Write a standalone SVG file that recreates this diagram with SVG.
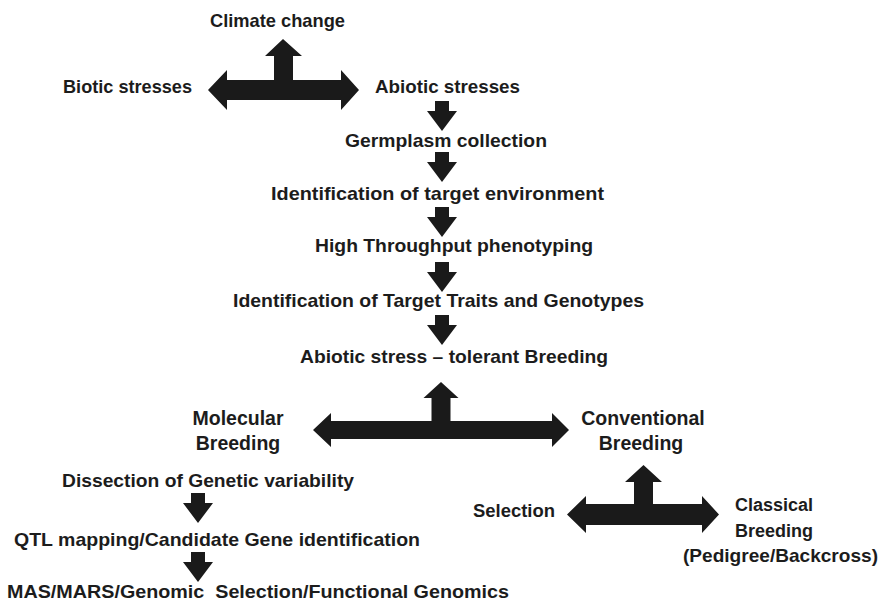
<svg xmlns="http://www.w3.org/2000/svg" width="881" height="603" viewBox="0 0 881 603">
<style>
  text { font-family: "Liberation Sans", Arial, sans-serif; font-weight: bold; font-size: 18.5px; fill: #1c1c1c; }
  .mid { text-anchor: middle; }
  .big { font-size: 19.5px; }
  .arrow { fill: #1a1a1a; stroke: none; }
</style>
<defs>
  <path id="down" d="M -7 0 L 7 0 L 7 10 L 15 10 L 0 30 L -15 10 L -7 10 Z"/>
</defs>
<rect width="881" height="603" fill="#ffffff"/>

<g id="connectors">
  <polygon class="arrow" points="208,90 227,70 227,80 274,80 274,56 265,56 283,39 302,56 293,56 293,80 341,80 341,70 359,90 341,110 341,100 227,100 227,110"/>
  <use href="#down" class="arrow" x="442" y="101"/>
  <use href="#down" class="arrow" x="442" y="152"/>
  <use href="#down" class="arrow" x="442" y="207"/>
  <use href="#down" class="arrow" x="442" y="262"/>
  <use href="#down" class="arrow" x="442" y="315"/>
  <polygon class="arrow" points="313,430 331,413 331,421 431.5,421 431.5,398 423.5,398 441,382 458.5,398 450.5,398 450.5,421 552,421 552,413 569,430 552,447 552,439 331,439 331,447"/>
  <use href="#down" class="arrow" x="198" y="493"/>
  <use href="#down" class="arrow" x="198" y="552"/>
  <polygon class="arrow" points="567,514.5 586,496 586,504 634,504 634,482 625,482 643.5,465 662,482 653,482 653,504 702,504 702,496 719,514.5 702,533 702,525 586,525 586,533"/>
</g>

<g id="climate-change"><text x="210" y="27" textLength="135" lengthAdjust="spacingAndGlyphs">Climate change</text></g>
<g id="biotic-stresses"><text x="63" y="93" textLength="129" lengthAdjust="spacingAndGlyphs">Biotic stresses</text></g>
<g id="abiotic-stresses"><text x="375" y="93" textLength="145" lengthAdjust="spacingAndGlyphs">Abiotic stresses</text></g>
<g id="germplasm"><text x="345" y="147" textLength="202" lengthAdjust="spacingAndGlyphs">Germplasm collection</text></g>
<g id="target-env"><text x="271" y="200" textLength="333" lengthAdjust="spacingAndGlyphs">Identification of target environment</text></g>
<g id="phenotyping"><text x="315" y="252" textLength="278" lengthAdjust="spacingAndGlyphs">High Throughput phenotyping</text></g>
<g id="target-traits"><text x="233" y="307" textLength="411" lengthAdjust="spacingAndGlyphs">Identification of Target Traits and Genotypes</text></g>
<g id="tolerant-breeding"><text x="300" y="363" textLength="308" lengthAdjust="spacingAndGlyphs">Abiotic stress – tolerant Breeding</text></g>
<g id="molecular-breeding">
  <text class="mid big" x="238" y="425">Molecular</text>
  <text class="mid big" x="238" y="450">Breeding</text>
</g>
<g id="conventional-breeding">
  <text class="mid big" x="643" y="425">Conventional</text>
  <text class="mid big" x="641" y="450">Breeding</text>
</g>
<g id="dissection"><text x="62" y="487" textLength="292" lengthAdjust="spacingAndGlyphs">Dissection of Genetic variability</text></g>
<g id="qtl"><text x="14" y="546" textLength="406" lengthAdjust="spacingAndGlyphs">QTL mapping/Candidate Gene identification</text></g>
<g id="mas"><text x="7" y="598" textLength="502" lengthAdjust="spacingAndGlyphs" xml:space="preserve">MAS/MARS/Genomic  Selection/Functional Genomics</text></g>
<g id="selection"><text x="473" y="517" textLength="82" lengthAdjust="spacingAndGlyphs">Selection</text></g>
<g id="classical-breeding">
  <text class="mid" x="774" y="511" style="font-size:18px">Classical</text>
  <text class="mid" x="774" y="537" style="font-size:18px">Breeding</text>
  <text x="683" y="562" textLength="195" lengthAdjust="spacingAndGlyphs">(Pedigree/Backcross)</text>
</g>
</svg>
